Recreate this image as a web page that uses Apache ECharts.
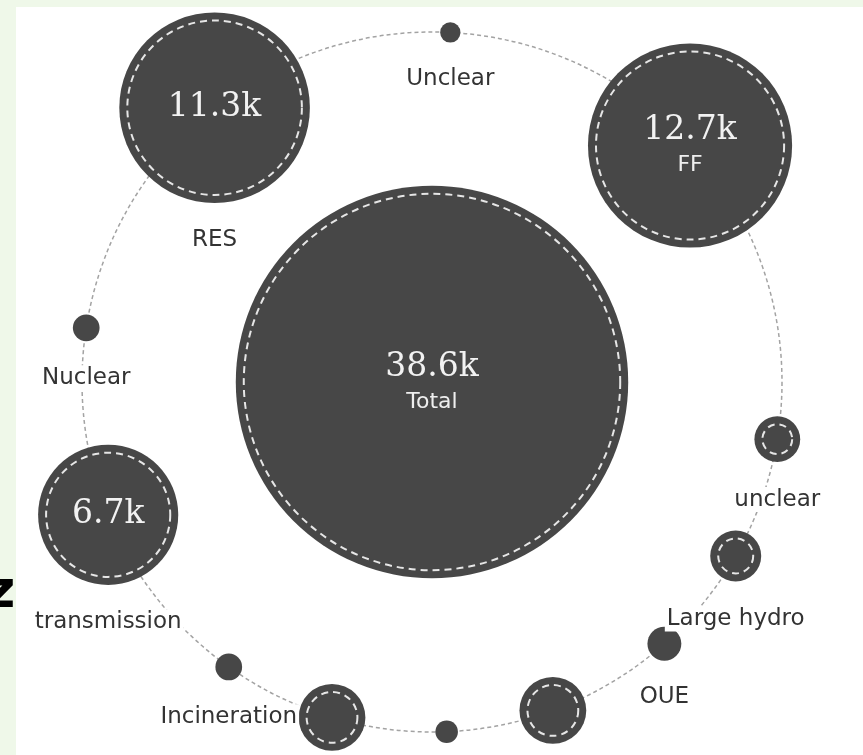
<!DOCTYPE html>
<html><head><meta charset="utf-8">
<script src="https://cdn.jsdelivr.net/npm/echarts@6/dist/echarts.min.js"></script>
<style>
html,body{margin:0;padding:0;width:863px;height:755px;overflow:hidden;background:#eff8e9;}
#z{position:absolute;left:-15px;top:563px;font:bold 52px/52px "DejaVu Sans",sans-serif;color:#000;}
#chart{position:absolute;left:16px;top:7px;width:847px;height:748px;background:#fff;}
</style></head><body>
<div id="z">z</div>
<div id="chart"></div>
<script>
// Node names (clockwise from the top of the ring; Total sits in the centre)
const names = ['Total','Unclear','FF','unclear','Large hydro','OUE','','','','Incineration','transmission','Nuclear','RES'];
// Values in thousands
const values = [38.6, 0.25, 12.7, 1.0, 1.2, 0.6, 1.9, 0.3, 1.9, 0.4, 6.7, 0.4, 11.3];
// Angle on the ring (degrees, clockwise from top) and ring membership (0 = centre, 1 = on ring)
const angles = [0, 3, 47.5, 99.4, 119.8, 138.4, 159.8, 177.6, 196.6, 215.5, 247.7, 278.9, 321.6];
const rings = [0, 1, 1, 1, 1, 1, 1, 1, 1, 1, 1, 1, 1];

const insideName = new Set(['Total', 'FF']);
const rad = v => 22.9 * Math.pow(v, 0.588);

const chart = echarts.init(document.getElementById('chart'));

const mainData = names.map((n, i) => ({ name: n, value: [rings[i], angles[i], values[i]] }));
const ringData = names.map((n, i) => {
  const r = rad(values[i]);
  const inner = Math.max(r - 8, 1);
  const ring = r >= 20;
  return {
    name: n,
    value: [rings[i], angles[i], values[i]],
    symbolSize: inner * 2,
    itemStyle: { borderWidth: ring ? 2 : 0 },
    label: { show: !!n && !insideName.has(n), distance: r - inner + 24 }
  };
});

chart.setOption({
  animation: false,
  polar: { center: [416, 375], radius: 350 },
  angleAxis: {
    type: 'value', min: 0, max: 360, startAngle: 90, clockwise: true,
    axisLine: { show: true, lineStyle: { color: '#a3a3a3', width: 1.5, type: [4, 3] } },
    axisTick: { show: false }, axisLabel: { show: false }, splitLine: { show: false }
  },
  radiusAxis: { type: 'value', min: 0, max: 1, show: false },
  series: [
    {
      type: 'scatter', coordinateSystem: 'polar', silent: true,
      emphasis: { disabled: true },
      symbol: 'circle',
      symbolSize: val => 2 * rad(val[2]),
      itemStyle: { color: '#474747', opacity: 1 },
      data: mainData,
      label: {
        show: true, position: 'inside',
        formatter: p => {
          const v = p.value[2];
          if (v < 5) return '';
          let s = '{v|' + v.toFixed(1) + 'k}';
          if (insideName.has(p.name)) s += '\n{n|' + p.name + '}';
          return s;
        },
        rich: {
          v: { fontFamily: 'DejaVu Serif', fontSize: 33, lineHeight: 40, color: '#f2f2f2' },
          n: { fontFamily: 'DejaVu Sans', fontSize: 22, lineHeight: 30, color: '#eeeeee' }
        }
      }
    },
    {
      type: 'scatter', coordinateSystem: 'polar', silent: true,
      emphasis: { disabled: true },
      symbol: 'circle',
      itemStyle: { color: 'rgba(0,0,0,0)', borderColor: '#e6e6e6', borderType: [7, 5], opacity: 1 },
      data: ringData,
      label: {
        position: 'bottom', formatter: '{b}',
        color: '#333', fontFamily: 'DejaVu Sans', fontSize: 23,
        backgroundColor: '#fff', padding: [1, 2]
      }
    }
  ]
});
</script>
</body></html>
